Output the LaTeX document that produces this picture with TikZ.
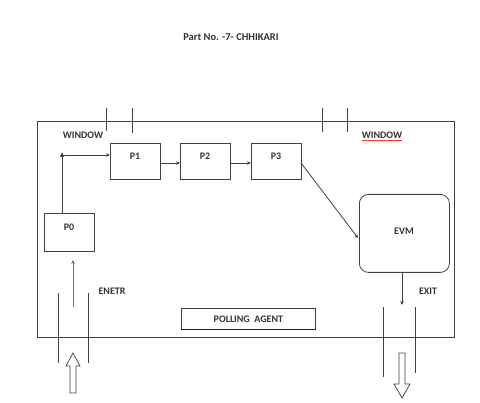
\documentclass[tikz,border=0pt]{standalone}
\usepackage{fontspec}
\setmainfont{Carlito}
\usetikzlibrary{arrows.meta}
\begin{document}
\begin{tikzpicture}[x=1pt,y=-1pt,
  ln/.style={draw=black!75,line width=0.8pt},
  proc/.style={ln,minimum width=50pt,minimum height=36pt,inner sep=0pt,anchor=north west},
  lbl/.style={font=\bfseries\fontsize{10}{11}\selectfont,text=black!80,inner sep=0pt},
  arr/.style={ln,-{Stealth[length=4pt,width=3.5pt]}},
  hollow/.style={draw=black!75,line width=0.7pt,fill=white}]
\useasboundingbox (0,0) rectangle (480,403);
% title
\node[lbl,font=\bfseries\fontsize{10.5}{12}\selectfont] (title) at (231,37) {Part No. -7- CHHIKARI};
% frame
\draw[ln] (37,121) rectangle (454,337);
% window ticks
\draw[ln] (106,108) -- (106,131);
\draw[ln] (132,108) -- (132,133);
\draw[ln] (322,108) -- (322,132);
\draw[ln] (347,108) -- (347,132);
\node[lbl] (w1) at (83,135) {WINDOW};
\node[lbl] (w2) at (382,135) {WINDOW};
\draw[red!80,line width=0.4pt] ([yshift=-1.5pt]w2.south west) -- ([yshift=-1.5pt]w2.south east);
% processes
\node[proc] (P1) at (110,143) {};
\node[proc] (P2) at (180,143) {};
\node[proc] (P3) at (251,143) {};
\node[proc,minimum height=38pt] (P0) at (44,213) {};
\node[lbl] at (135,156) {P1};
\node[lbl] at (205,156) {P2};
\node[lbl] at (276,156) {P3};
\node[lbl] at (69,227) {P0};
% EVM
\node[ln,rounded corners=9pt,minimum width=90pt,minimum height=78pt,inner sep=0pt,anchor=north west] (EVM) at (359,194) {};
\node[lbl] at (404,231) {EVM};
% polling agent
\node[ln,minimum width=134pt,minimum height=21pt,inner sep=0pt,anchor=north west] (PA) at (181,308) {};
\node[lbl] at (PA.center) {POLLING\ \ AGENT};
\draw[black!85,line width=1pt] (PA.south west) -- (PA.south east);
% connectors
\draw[arr] (P0.north -| 62,0) |- (110,155);
\fill[black!75] (62,152) -- (60,157) -- (64,157) -- cycle;
\draw[arr] (160,163) -- (180,163);
\draw[arr] (230,163) -- (251,163);
\draw[arr] (301,163) -- (358,238);
% entry
\coordinate (e0) at (73,307);
\draw[ln,draw=black!55,-{Stealth[length=4pt,width=3.5pt]}] (e0) -- (73,260);
\draw[ln] (58,293) -- (58,363);
\draw[ln] (88,293) -- (88,363);
\node[lbl] (enetr) at (112,291) {ENETR};
\draw[hollow] (70,393) -- (70,366) -- (66,366) -- (73,353) -- (80,366) -- (76,366) -- (76,393) -- cycle;
% exit
\coordinate (x1) at (402,305);
\draw[arr] (EVM.south -| 402,0) -- (x1);
\draw[ln] (383,307) -- (383,377);
\draw[ln] (415,307) -- (415,373);
\node[lbl] (exit) at (428,291) {EXIT};
\draw[hollow] (399,353) -- (405,353) -- (405,384) -- (410,384) -- (402,398) -- (394,384) -- (399,384) -- cycle;
\end{tikzpicture}
\end{document}
